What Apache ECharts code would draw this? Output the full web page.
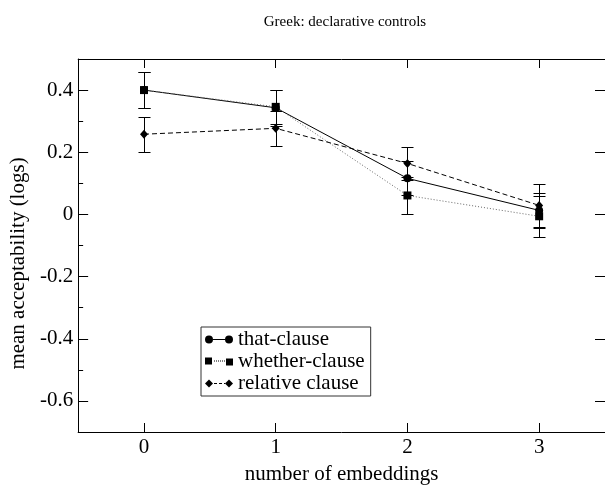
<!DOCTYPE html>
<html>
<head>
<meta charset="utf-8">
<script src="https://cdn.jsdelivr.net/npm/echarts@6/dist/echarts.min.js"></script>
<style>
html,body{margin:0;padding:0;background:#fff;}
#chart{width:605px;height:490px;}
</style>
</head>
<body>
<div id="chart"></div>
<script>
// ---- data ----
const xValues = [0, 1, 2, 3];
const xTickLabels = [0, 1, 2, 3];
const yTickValues = [-0.6, -0.4, -0.2, 0, 0.2, 0.4];
const yMinorTickValues = [-0.5, -0.3, -0.1, 0.1, 0.3];
const seriesNames = ['that-clause', 'whether-clause', 'relative clause'];
const thatVals = [0.400, 0.343, 0.116, 0.013];
const thatErr = [0.059, 0.057, 0.055, 0.057];
const whetherVals = [0.400, 0.346, 0.061, -0.006];
const whetherErr = [0.058, 0.055, 0.059, 0.066];
const relativeVals = [0.258, 0.277, 0.164, 0.029];
const relativeErr = [0.056, 0.056, 0.054, 0.068];

const FONT = '"Liberation Serif", "DejaVu Serif", serif';

function pts(vals) { return xValues.map((x, i) => [x, vals[i]]); }
function errs(vals, e) { return xValues.map((x, i) => [x, vals[i] - e[i], vals[i] + e[i]]); }

function errorRender(params, api) {
  const x = api.value(0), lo = api.value(1), hi = api.value(2);
  const p1 = api.coord([x, lo]), p2 = api.coord([x, hi]);
  const cx = Math.round(p1[0]) + 0.5;
  const y1 = Math.round(p1[1]) + 0.5, y2 = Math.round(p2[1]) + 0.5;
  const w = 6;
  const st = { stroke: '#000', lineWidth: 1 };
  return {
    type: 'group',
    children: [
      { type: 'line', shape: { x1: cx, y1: y1, x2: cx, y2: y2 }, style: st },
      { type: 'line', shape: { x1: cx - w, y1: y1, x2: cx + w, y2: y1 }, style: st },
      { type: 'line', shape: { x1: cx - w, y1: y2, x2: cx + w, y2: y2 }, style: st }
    ]
  };
}

function errSeries(name, data) {
  return {
    type: 'custom', name: name + ' err', renderItem: errorRender,
    data: data, encode: { x: 0, y: [1, 2] }, z: 1, silent: true
  };
}

const iconThat = 'path://M0,4A4,4,0,1,1,8,4A4,4,0,1,1,0,4Z M8,3.5L20,3.5L20,4.5L8,4.5Z M20,4A4,4,0,1,1,28,4A4,4,0,1,1,20,4Z';
const iconWhether = 'path://M0,0L7,0L7,7L0,7Z M9,3L10,3L10,4L9,4Z M11,3L12,3L12,4L11,4Z M13,3L14,3L14,4L13,4Z M15,3L16,3L16,4L15,4Z M17,3L18,3L18,4L17,4Z M19,3L20,3L20,4L19,4Z M21,1L28,1L28,8L21,8Z';
const iconRel = 'path://M0,4L4,0L8,4L4,8Z M9,3.5L12,3.5L12,4.5L9,4.5Z M14,3.5L17,3.5L17,4.5L14,4.5Z M19,3.5L20,3.5L20,4.5L19,4.5Z M20,4L24,0L28,4L24,8Z';

const chart = echarts.init(document.getElementById('chart'), null, { renderer: 'canvas' });

const axisLine = { show: true, onZero: false, lineStyle: { color: '#000', width: 1 } };
const labelFmt = v => (Math.abs(v) < 1e-9 ? '0' : v.toFixed(1));

const option = {
  backgroundColor: '#fff',
  animation: false,
  textStyle: { fontFamily: FONT, color: '#000' },
  title: {
    text: 'Greek: declarative controls',
    left: 340, top: 10, textAlign: 'center',
    textStyle: { fontFamily: FONT, fontSize: 15, fontWeight: 'normal', color: '#000' }
  },
  grid: { left: 77, top: 59, width: 537, height: 374, containLabel: false },
  legend: {
    left: 201, top: 327, orient: 'vertical',
    itemWidth: 28, itemHeight: 8, itemGap: 1,
    padding: [2, 6, 2, 4],
    borderColor: '#333', borderWidth: 1,
    textStyle: { fontFamily: FONT, fontSize: 21, color: '#000', padding: [0, 0, 0, 0] },
    data: [
      { name: seriesNames[0], icon: iconThat, itemStyle: { color: '#000' } },
      { name: seriesNames[1], icon: iconWhether, itemStyle: { color: '#000' } },
      { name: seriesNames[2], icon: iconRel, itemStyle: { color: '#000' } }
    ],
    selectedMode: false
  },
  xAxis: [
    {
      type: 'value', min: -0.5, max: 3.5, position: 'bottom',
      name: 'number of embeddings', nameLocation: 'middle', nameGap: 32,
      nameTextStyle: { fontFamily: FONT, fontSize: 21, color: '#000' },
      axisLine: axisLine,
      axisTick: { show: true, inside: true, length: 9, customValues: xValues, lineStyle: { color: '#000' } },
      axisLabel: { show: true, customValues: xTickLabels, margin: 5, fontFamily: FONT, fontSize: 21, color: '#000', formatter: v => String(v) },
      splitLine: { show: false }
    },
    {
      type: 'value', min: -0.5, max: 3.5, position: 'top',
      axisLine: axisLine,
      axisTick: { show: true, inside: true, length: 9, customValues: xValues, lineStyle: { color: '#000' } },
      axisLabel: { show: false },
      splitLine: { show: false }
    }
  ],
  yAxis: [
    {
      type: 'value', min: -0.7, max: 0.5, position: 'left',
      name: 'mean acceptability (logs)', nameLocation: 'middle', nameGap: 42,
      nameTextStyle: { fontFamily: FONT, fontSize: 21, color: '#000', padding: [0, 36, 0, 0] },
      axisLine: axisLine,
      axisTick: { show: true, inside: true, length: 10, customValues: yTickValues, lineStyle: { color: '#000' } },
      axisLabel: { show: true, customValues: yTickValues, margin: 5, fontFamily: FONT, fontSize: 21, color: '#000', formatter: labelFmt },
      splitLine: { show: false }
    },
    {
      type: 'value', min: -0.7, max: 0.5, position: 'left',
      axisLine: { show: false, onZero: false },
      axisTick: { show: true, inside: true, length: 5, customValues: yMinorTickValues, lineStyle: { color: '#000' } },
      axisLabel: { show: false },
      splitLine: { show: false }
    },
    {
      type: 'value', min: -0.7, max: 0.5, position: 'right',
      axisLine: axisLine,
      axisTick: { show: true, inside: true, length: 10, customValues: yTickValues, lineStyle: { color: '#000' } },
      axisLabel: { show: false },
      splitLine: { show: false }
    }
  ],
  series: [
    errSeries(seriesNames[0], errs(thatVals, thatErr)),
    errSeries(seriesNames[1], errs(whetherVals, whetherErr)),
    errSeries(seriesNames[2], errs(relativeVals, relativeErr)),
    {
      type: 'line', name: seriesNames[0], data: pts(thatVals), z: 3,
      symbol: 'circle', symbolSize: 8, showSymbol: true,
      lineStyle: { color: '#000', width: 1, type: 'solid' },
      itemStyle: { color: '#000' }
    },
    {
      type: 'line', name: seriesNames[1], data: pts(whetherVals), z: 3,
      symbol: 'rect', symbolSize: 8, showSymbol: true,
      lineStyle: { color: '#666', width: 1, type: [1, 2] },
      itemStyle: { color: '#000' }
    },
    {
      type: 'line', name: seriesNames[2], data: pts(relativeVals), z: 3,
      symbol: 'diamond', symbolSize: [8, 9], showSymbol: true,
      lineStyle: { color: '#000', width: 1, type: [5, 3] },
      itemStyle: { color: '#000' }
    }
  ]
};
chart.setOption(option);
</script>
</body>
</html>
